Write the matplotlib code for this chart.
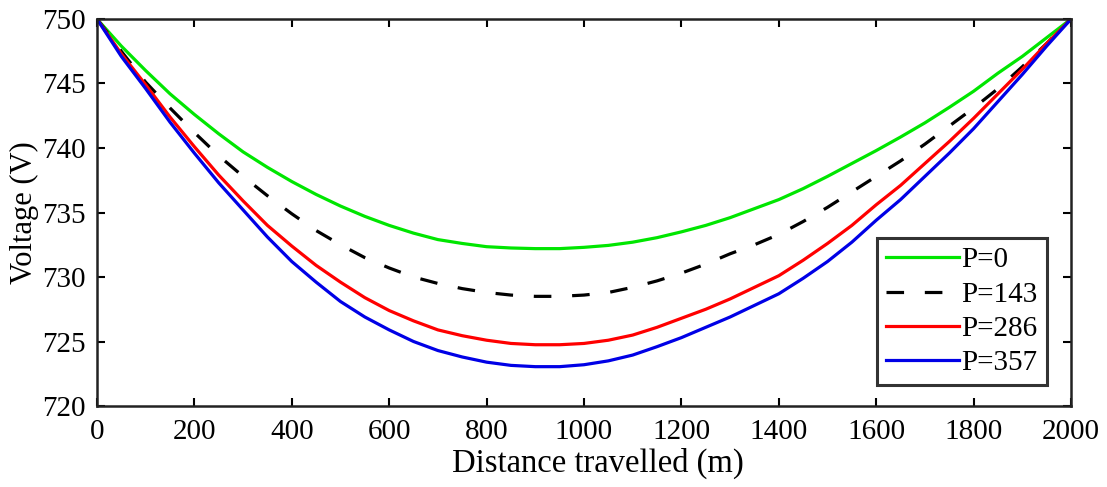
import matplotlib
matplotlib.use("Agg")
import matplotlib.pyplot as plt

# distance along the line (m), every 50 m
distance = list(range(0, 2001, 50))

# voltage (V) for each load
v_p0 = [750, 747.9, 746.0, 744.2, 742.6, 741.1, 739.7, 738.5, 737.4, 736.4,
        735.5, 734.7, 734.0, 733.4, 732.9, 732.6, 732.35, 732.25, 732.2, 732.2,
        732.3, 732.45, 732.7, 733.05, 733.5, 734.0, 734.6, 735.3, 736.0, 736.85,
        737.8, 738.8, 739.8, 740.85, 741.95, 743.15, 744.4, 745.8, 747.1, 748.55, 750]
v_p143 = [750, 747.5, 745.1, 743.1, 741.2, 739.4, 737.8, 736.3, 734.9, 733.6,
          732.5, 731.5, 730.7, 730.0, 729.5, 729.1, 728.8, 728.6, 728.5, 728.5,
          728.6, 728.8, 729.2, 729.7, 730.3, 731.0, 731.8, 732.5, 733.3, 734.3,
          735.4, 736.6, 737.8, 739.0, 740.3, 741.7, 743.1, 744.6, 746.3, 748.1, 750]
v_p286 = [750, 747.3, 744.9, 742.4, 740.1, 737.9, 735.9, 734.0, 732.4, 730.9,
          729.6, 728.4, 727.4, 726.6, 725.9, 725.45, 725.1, 724.85, 724.75, 724.75,
          724.85, 725.1, 725.5, 726.1, 726.8, 727.5, 728.3, 729.2, 730.1, 731.3,
          732.6, 734.0, 735.6, 737.1, 738.8, 740.5, 742.3, 744.2, 746.1, 748.1, 750]
v_p357 = [750, 747.1, 744.6, 742.0, 739.6, 737.3, 735.2, 733.1, 731.2, 729.6,
          728.1, 726.9, 725.9, 725.0, 724.3, 723.8, 723.4, 723.15, 723.05, 723.05,
          723.2, 723.5, 723.95, 724.6, 725.3, 726.1, 726.9, 727.8, 728.7, 729.9,
          731.2, 732.7, 734.4, 736.0, 737.8, 739.6, 741.5, 743.6, 745.7, 747.9, 750]

labels = ["P=0", "P=143", "P=286", "P=357"]

plt.rcParams['font.family'] = ['Liberation Serif', 'DejaVu Serif']

fig = plt.figure(figsize=(11.07, 4.87), dpi=100)
ax = fig.add_axes([0.0876, 0.1663, 0.8799, 0.7947])

ax.plot(distance, v_p0, color='#00e600', lw=2.3, label=labels[0])
ax.plot(distance, v_p143, color='black', lw=2.3, ls=(0, (5.5, 6.5)), label=labels[1])
ax.plot(distance, v_p286, color='#ff0000', lw=2.3, label=labels[2])
ax.plot(distance, v_p357, color='#0000e6', lw=2.3, label=labels[3])

ax.set_xlim(0, 2000)
ax.set_ylim(720, 750)
ax.set_xticks(range(0, 2001, 200))
ax.set_yticks(range(720, 751, 5))
ax.tick_params(direction='in', top=True, right=True, length=6, width=1.5,
               labelsize=21, colors='black')
ax.tick_params(axis='x', pad=9)
ax.tick_params(axis='y', pad=8)
for sp in ax.spines.values():
    sp.set_linewidth(1.8)
    sp.set_color('#222222')

ax.set_xlabel('Distance travelled (m)', fontsize=23.5, labelpad=2)
ax.xaxis.label.set_x(0.514)
ax.set_ylabel('Voltage (V)', fontsize=22, labelpad=2)

leg = ax.legend(loc='lower right', bbox_to_anchor=(0.975, 0.054), borderaxespad=0,
                fontsize=21, frameon=True, fancybox=False, handlelength=2.5,
                handletextpad=0.1, labelspacing=0.27, borderpad=0.3)
leg.get_frame().set_edgecolor('black')
leg.get_frame().set_linewidth(2.2)

fig.savefig('out.png', dpi=100)
